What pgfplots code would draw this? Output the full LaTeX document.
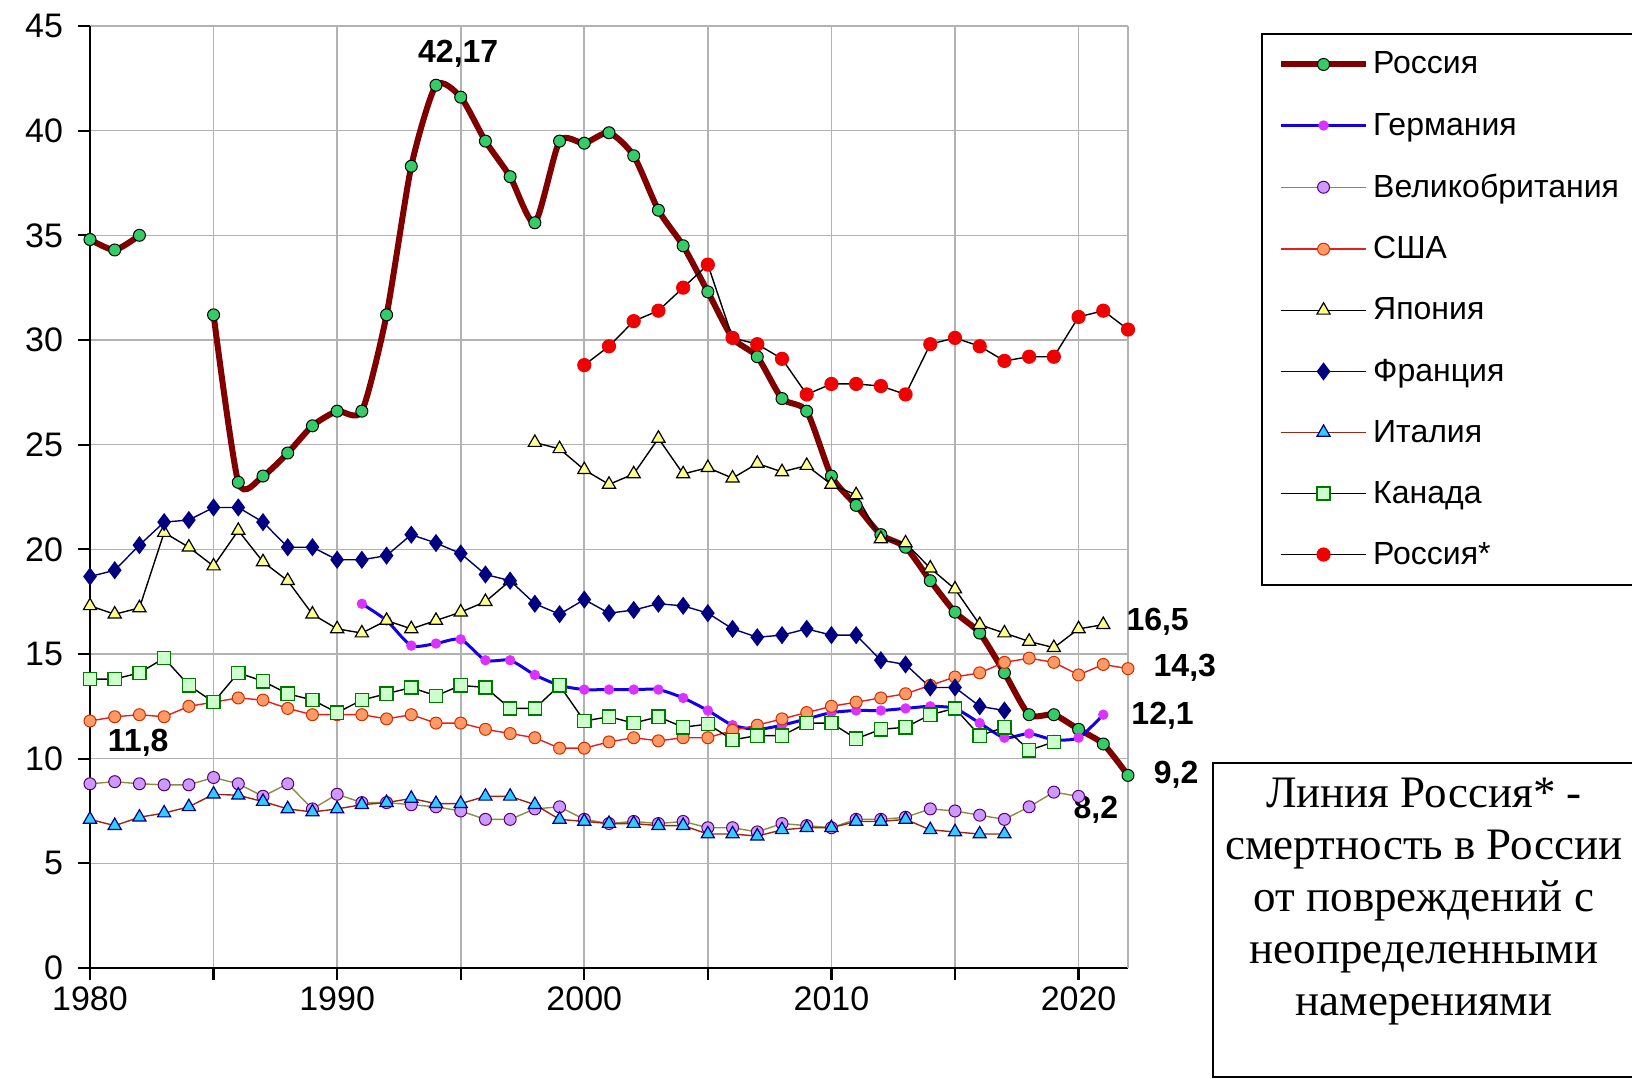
\documentclass[border=0pt]{standalone}
\usepackage{fontspec}
\setmainfont{Liberation Sans}
\newfontfamily\seriffont{Liberation Serif}
\usepackage{pgfplots}
\pgfplotsset{compat=1.18}
\definecolor{rusline}{RGB}{128,0,0}
\definecolor{rusmark}{RGB}{51,204,102}
\definecolor{gerline}{RGB}{20,0,230}
\definecolor{germark}{RGB}{220,50,255}
\definecolor{ukline}{RGB}{140,140,70}
\definecolor{ukfill}{RGB}{204,153,255}
\definecolor{ukdraw}{RGB}{90,0,110}
\definecolor{usline}{RGB}{230,30,30}
\definecolor{usfill}{RGB}{255,153,102}
\definecolor{usdraw}{RGB}{200,50,0}
\definecolor{jpfill}{RGB}{255,255,140}
\definecolor{frfill}{RGB}{0,0,128}
\definecolor{itline}{RGB}{150,40,20}
\definecolor{itfill}{RGB}{51,204,255}
\definecolor{itdraw}{RGB}{0,0,128}
\definecolor{cafill}{RGB}{204,255,204}
\definecolor{cadraw}{RGB}{0,120,0}
\definecolor{rsred}{RGB}{240,0,0}
\begin{document}
\begin{tikzpicture}[x=0.5pt,y=0.5pt]
\useasboundingbox (0,0) rectangle (1632,1079);
\begin{axis}[
  at={(45pt,55.5pt)}, anchor=south west, scale only axis,
  width=519pt, height=471pt,
  xmin=1980, xmax=2022, ymin=0, ymax=45,
  xtick={1980,1985,...,2020}, xticklabels={1980,,1990,,2000,,2010,,2020},
  ytick={0,5,...,45},
  extra x ticks={2022}, extra x tick labels={},
  extra x tick style={grid=major, major tick length=0pt},
  grid=major, grid style={gray!60, line width=0.8pt},
  axis x line*=bottom, axis y line*=left,
  axis line style={black, line width=1.1pt},
  tick align=outside, major tick length=6pt,
  tick style={black, line width=1.1pt},
  tick label style={font=\fontsize{17}{17}\selectfont},
  yticklabel style={xshift=-4pt},
  /pgf/number format/assume math mode=true,
  clip=false,
  unbounded coords=jump,
  legend style={at={(1.128,0.9926)}, anchor=north west, draw=black, line width=1pt,
    font=\fontsize{16}{16}\selectfont, row sep=14pt, inner xsep=8pt, inner ysep=7pt,
    cells={anchor=west}},
  legend cell align=left,
  legend image code/.code={\draw[mark repeat=2,mark phase=2,#1] plot coordinates {(0cm,0cm) (0.75cm,0cm) (1.5cm,0cm)};},
]
% Russia
\addplot[forget plot, rusline, line width=3pt, smooth, tension=0.4, mark=*, mark size=3pt, mark options={solid, fill=rusmark, draw=black, line width=0.5pt}]
 coordinates {(1980,34.8)(1981,34.3)(1982,35.0)};
\addplot[rusline, line width=3pt, smooth, tension=0.4, mark=*, mark size=3pt, mark options={solid, fill=rusmark, draw=black, line width=0.5pt}]
 coordinates {(1985,31.2)(1986,23.2)(1987,23.5)(1988,24.6)(1989,25.9)(1990,26.6)(1991,26.6)(1992,31.2)(1993,38.3)(1994,42.17)(1995,41.6)(1996,39.5)(1997,37.8)(1998,35.6)(1999,39.5)(2000,39.4)(2001,39.9)(2002,38.8)(2003,36.2)(2004,34.5)(2005,32.3)(2006,30.1)(2007,29.2)(2008,27.2)(2009,26.6)(2010,23.5)(2011,22.1)(2012,20.7)(2013,20.1)(2014,18.5)(2015,17.0)(2016,16.0)(2017,14.1)(2018,12.1)(2019,12.1)(2020,11.4)(2021,10.7)(2022,9.2)};
\addlegendentry{Россия}
% Germany
\addplot[gerline, line width=1.5pt, smooth, tension=0.4, mark=*, mark size=1.8pt, mark options={solid, fill=germark, draw=germark}]
 coordinates {(1991,17.4)(1992,16.6)(1993,15.4)(1994,15.5)(1995,15.7)(1996,14.7)(1997,14.7)(1998,14.0)(1999,13.5)(2000,13.3)(2001,13.3)(2002,13.3)(2003,13.3)(2004,12.9)(2005,12.3)(2006,11.6)(2007,11.4)(2008,11.6)(2009,11.9)(2010,12.2)(2011,12.3)(2012,12.3)(2013,12.4)(2014,12.5)(2015,12.4)(2016,11.7)(2017,11.0)(2018,11.2)(2019,10.9)(2020,11.0)(2021,12.1)};
\addlegendentry{Германия}
% UK
\addplot[ukline, line width=0.7pt, mark=*, mark size=3pt, mark options={solid, fill=ukfill, draw=ukdraw, line width=0.5pt}]
 coordinates {(1980,8.8)(1981,8.9)(1982,8.8)(1983,8.75)(1984,8.75)(1985,9.1)(1986,8.8)(1987,8.2)(1988,8.8)(1989,7.6)(1990,8.3)(1991,7.9)(1992,7.9)(1993,7.8)(1994,7.7)(1995,7.5)(1996,7.1)(1997,7.1)(1998,7.6)(1999,7.7)(2000,7.1)(2001,6.9)(2002,7.0)(2003,6.9)(2004,7.0)(2005,6.7)(2006,6.7)(2007,6.5)(2008,6.9)(2009,6.8)(2010,6.7)(2011,7.1)(2012,7.1)(2013,7.2)(2014,7.6)(2015,7.5)(2016,7.3)(2017,7.1)(2018,7.7)(2019,8.4)(2020,8.2)};
\addlegendentry{Великобритания}
% USA
\addplot[usline, line width=0.7pt, mark=*, mark size=3pt, mark options={solid, fill=usfill, draw=usdraw, line width=0.5pt}]
 coordinates {(1980,11.8)(1981,12.0)(1982,12.1)(1983,12.0)(1984,12.5)(1985,12.7)(1986,12.9)(1987,12.8)(1988,12.4)(1989,12.1)(1990,12.1)(1991,12.1)(1992,11.9)(1993,12.1)(1994,11.7)(1995,11.7)(1996,11.4)(1997,11.2)(1998,11.0)(1999,10.5)(2000,10.5)(2001,10.8)(2002,11.0)(2003,10.85)(2004,11.0)(2005,11.0)(2006,11.35)(2007,11.6)(2008,11.9)(2009,12.2)(2010,12.5)(2011,12.7)(2012,12.9)(2013,13.1)(2014,13.5)(2015,13.9)(2016,14.1)(2017,14.6)(2018,14.8)(2019,14.6)(2020,14.0)(2021,14.5)(2022,14.3)};
\addlegendentry{США}
% Japan
\addplot[black, line width=0.7pt, mark=triangle*, mark size=3.8pt, mark options={solid, fill=jpfill, draw=black, line width=0.6pt}]
 coordinates {(1980,17.3)(1981,16.9)(1982,17.2)(1983,20.8)(1984,20.1)(1985,19.2)(1986,20.9)(1987,19.4)(1988,18.5)(1989,16.9)(1990,16.2)(1991,16.0)(1992,16.6)(1993,16.2)(1994,16.6)(1995,17.0)(1996,17.5)(1997,18.5)(1997.5,nan)(1998,25.1)(1999,24.8)(2000,23.8)(2001,23.1)(2002,23.6)(2003,25.3)(2004,23.6)(2005,23.9)(2006,23.4)(2007,24.1)(2008,23.7)(2009,24.0)(2010,23.1)(2011,22.6)(2012,20.5)(2013,20.3)(2014,19.1)(2015,18.1)(2016,16.4)(2017,16.0)(2018,15.6)(2019,15.3)(2020,16.2)(2021,16.4)};
\addlegendentry{Япония}
% France
\addplot[frfill!80!black, line width=0.7pt, mark=diamond*, mark size=4pt, mark options={solid, fill=frfill, draw=frfill}]
 coordinates {(1980,18.7)(1981,19.0)(1982,20.2)(1983,21.3)(1984,21.4)(1985,22.0)(1986,22.0)(1987,21.3)(1988,20.1)(1989,20.1)(1990,19.5)(1991,19.5)(1992,19.7)(1993,20.7)(1994,20.3)(1995,19.8)(1996,18.8)(1997,18.5)(1998,17.4)(1999,16.9)(2000,17.6)(2001,16.95)(2002,17.1)(2003,17.4)(2004,17.3)(2005,16.95)(2006,16.2)(2007,15.8)(2008,15.9)(2009,16.2)(2010,15.9)(2011,15.9)(2012,14.7)(2013,14.5)(2014,13.4)(2015,13.4)(2016,12.5)(2017,12.3)};
\addlegendentry{Франция}
% Italy
\addplot[itline, line width=0.7pt, mark=triangle*, mark size=3.8pt, mark options={solid, fill=itfill, draw=itdraw, line width=0.6pt}]
 coordinates {(1980,7.1)(1981,6.8)(1982,7.2)(1983,7.4)(1984,7.7)(1985,8.3)(1986,8.25)(1987,7.95)(1988,7.6)(1989,7.45)(1990,7.6)(1991,7.8)(1992,7.9)(1993,8.1)(1994,7.85)(1995,7.85)(1996,8.2)(1997,8.2)(1998,7.8)(1999,7.1)(2000,7.0)(2001,6.9)(2002,6.9)(2003,6.8)(2004,6.8)(2005,6.4)(2006,6.4)(2007,6.3)(2008,6.6)(2009,6.7)(2010,6.7)(2011,7.0)(2012,7.0)(2013,7.1)(2014,6.6)(2015,6.5)(2016,6.4)(2017,6.4)};
\addlegendentry{Италия}
% Canada
\addplot[black, line width=0.7pt, mark=square*, mark size=3.3pt, mark options={solid, fill=cafill, draw=cadraw, line width=0.7pt}]
 coordinates {(1980,13.8)(1981,13.8)(1982,14.1)(1983,14.8)(1984,13.5)(1985,12.7)(1986,14.1)(1987,13.7)(1988,13.1)(1989,12.8)(1990,12.2)(1991,12.8)(1992,13.1)(1993,13.4)(1994,13.0)(1995,13.5)(1996,13.4)(1997,12.4)(1998,12.4)(1999,13.5)(2000,11.8)(2001,12.0)(2002,11.7)(2003,12.0)(2004,11.5)(2005,11.65)(2006,10.9)(2007,11.1)(2008,11.1)(2009,11.7)(2010,11.7)(2011,10.95)(2012,11.4)(2013,11.5)(2014,12.1)(2015,12.4)(2016,11.1)(2017,11.5)(2018,10.4)(2019,10.8)};
\addlegendentry{Канада}
% Russia*
\addplot[black, line width=0.7pt, mark=*, mark size=3.2pt, mark options={solid, fill=rsred, draw=rsred}]
 coordinates {(2000,28.8)(2001,29.7)(2002,30.9)(2003,31.4)(2004,32.5)(2005,33.6)(2006,30.1)(2007,29.8)(2008,29.1)(2009,27.4)(2010,27.9)(2011,27.9)(2012,27.8)(2013,27.4)(2014,29.8)(2015,30.1)(2016,29.7)(2017,29.0)(2018,29.2)(2019,29.2)(2020,31.1)(2021,31.4)(2022,30.5)};
\addlegendentry{Россия*}
% value labels
\node[font=\bfseries\fontsize{16}{16}\selectfont] at (axis cs:1994.9,43.66) {42,17};
\node[font=\bfseries\fontsize{16}{16}\selectfont] at (axis cs:1981.95,10.75) {11,8};
\node[font=\bfseries\fontsize{16}{16}\selectfont] at (axis cs:2023.2,16.53) {16,5};
\node[font=\bfseries\fontsize{16}{16}\selectfont] at (axis cs:2024.3,14.33) {14,3};
\node[font=\bfseries\fontsize{16}{16}\selectfont] at (axis cs:2023.4,12.04) {12,1};
\node[font=\bfseries\fontsize{16}{16}\selectfont] at (axis cs:2023.95,9.22) {9,2};
\node[font=\bfseries\fontsize{16}{16}\selectfont] at (axis cs:2020.7,7.55) {8,2};
\end{axis}
\draw[line width=1pt] (1213,316) rectangle (1700,2);
\node[align=center, font=\seriffont\fontsize{22.5}{26}\selectfont] at (1424,177.5)
 {Линия Россия* -\\смертность в России\\от повреждений с\\неопределенными\\намерениями};
\end{tikzpicture}
\end{document}
